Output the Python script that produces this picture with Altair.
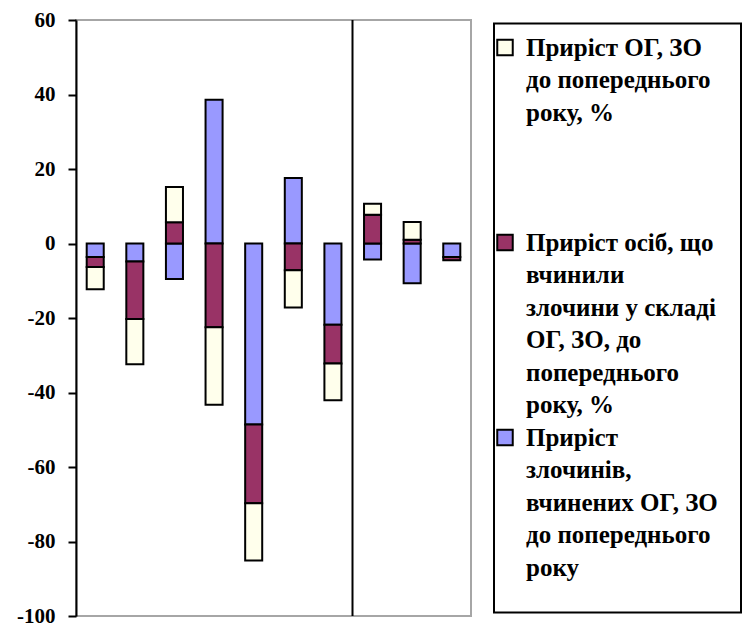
import altair as alt
import pandas as pd

# ---- data ----
categories = [str(i) for i in range(1, 11)]
series = [
    "Приріст злочинів, вчинених ОГ, ЗО до попереднього року",
    "Приріст осіб, що вчинили злочини у складі ОГ, ЗО, до попереднього року, %",
    "Приріст ОГ, ЗО до попереднього року, %",
]
crimes = [-3.6, -4.8, -9.5, 38.6, -48.6, 17.6, -21.8, -4.3, -10.7, -3.6]
persons = [-2.7, -15.5, 5.7, -22.5, -21.1, -7.2, -10.4, 7.7, 1.0, -0.9]
groups = [-6.0, -12.1, 9.5, -20.8, -15.4, -10.0, -9.9, 3.0, 4.8, 0.0]
colors = ["#9999FF", "#993366", "#FFFFEC"]
boundary = [7]  # separator between the 7th and 8th bar groups
y_ticks = [-100, -80, -60, -40, -20, 0, 20, 40, 60]

legend_order = [2, 1, 0]  # legend lists the series in this order
legend_lines = [
    ["Приріст ОГ, ЗО", "до попереднього", "року, %"],
    ["Приріст осіб, що", "вчинили", "злочини у складі", "ОГ, ЗО, до", "попереднього", "року, %"],
    ["Приріст", "злочинів,", "вчинених ОГ, ЗО", "до попереднього", "року"],
]
legend_start_line = [0, 6, 12]

# ---- tables ----
rows = []
for s_idx, vals in enumerate([crimes, persons, groups]):
    for c, v in zip(categories, vals):
        if v != 0:
            rows.append({"cat": c, "value": v, "series": series[s_idx], "ord": s_idx + 1})
df = pd.DataFrame(rows)

txt_rows, sw_rows = [], []
for k, s_idx in enumerate(legend_order):
    sw_rows.append({"col": 0, "line": legend_start_line[k], "series": series[s_idx]})
    for j, t in enumerate(legend_lines[k]):
        txt_rows.append({"col": 1, "line": legend_start_line[k] + j, "text": t})
txt_df = pd.DataFrame(txt_rows)
sw_df = pd.DataFrame(sw_rows)

color_scale = alt.Scale(domain=series, range=colors)
FONT = "Liberation Serif, DejaVu Serif, serif"

bars = alt.Chart(df).mark_bar(stroke="black", strokeWidth=2).encode(
    x=alt.X("cat:N", sort=categories, axis=None,
            scale=alt.Scale(paddingInner=0.57, paddingOuter=0.27)),
    y=alt.Y("value:Q", stack="zero",
            scale=alt.Scale(domain=[-100, 60], nice=False, zero=False),
            axis=alt.Axis(values=y_ticks, title=None, grid=False,
                          labelExpr="'' + datum.value",
                          labelFont=FONT, labelFontWeight="bold", labelFontSize=21,
                          labelColor="black", labelPadding=13,
                          domainColor="black", domainWidth=2,
                          tickColor="black", tickWidth=2, tickSize=8,
                          minExtent=67, maxExtent=67)),
    color=alt.Color("series:N", scale=color_scale, legend=None),
    order=alt.Order("ord:Q"),
)

rule = alt.Chart(pd.DataFrame({"pos": boundary})).mark_rule(
    color="black", strokeWidth=2
).encode(x=alt.X("pos:Q", scale=alt.Scale(domain=[0, len(categories)]), axis=None))

main = alt.layer(bars, rule).resolve_scale(x="independent").properties(
    width=395, height=596,
    view=alt.ViewBackground(stroke="#A6A6A6", strokeWidth=2),
)

lx = alt.X("col:Q", scale=alt.Scale(domain=[0, 1], range=[11, 32]), axis=None)
ly = alt.Y("line:Q", scale=alt.Scale(domain=[-0.74, 17.38], reverse=True, nice=False, zero=False), axis=None)

leg_text = alt.Chart(txt_df).mark_text(
    align="left", baseline="middle", font=FONT, fontWeight="bold",
    fontSize=25, color="black"
).encode(x=lx, y=ly, text="text:N")

leg_sw = alt.Chart(sw_df).mark_square(
    size=240, stroke="black", strokeWidth=2, opacity=1
).encode(x=lx, y=ly, fill=alt.Fill("series:N", scale=color_scale, legend=None))

legend = alt.layer(leg_sw, leg_text).properties(
    width=247, height=589,
    view=alt.ViewBackground(stroke="black", strokeWidth=2),
)

chart = alt.hconcat(main, legend, spacing=23, bounds="flush", center=True).properties(
    padding={"left": 0, "top": 0, "right": 0, "bottom": 0},
    background="white",
)

chart.save("out.html", embed_options={"renderer": "svg", "actions": False})
